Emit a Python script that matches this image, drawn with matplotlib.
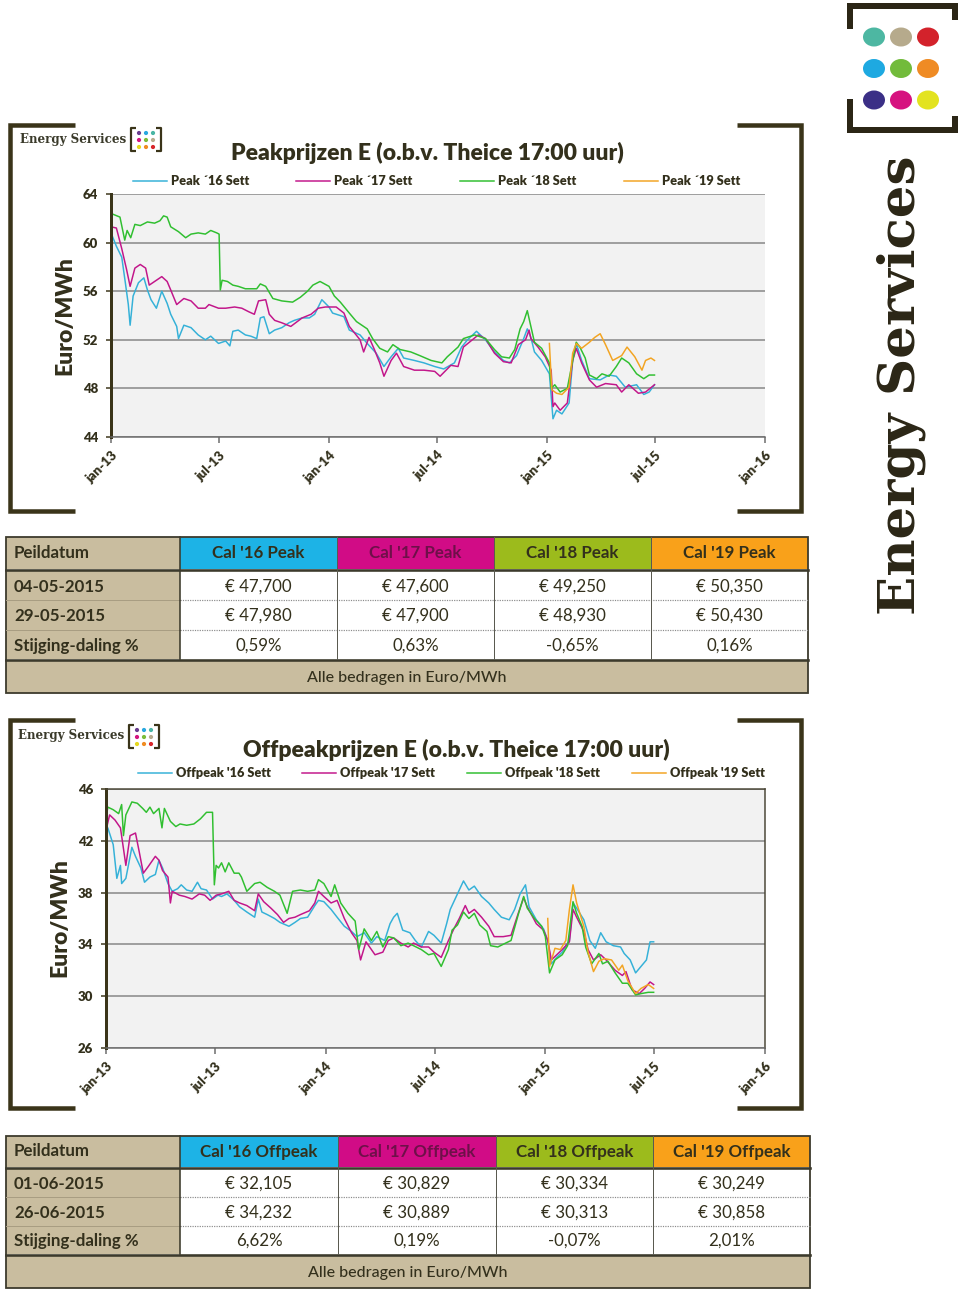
import numpy as np
import matplotlib
matplotlib.use("Agg")
import matplotlib.pyplot as plt
from matplotlib.patches import Rectangle, Ellipse

# ---------------- data (months after 1 Jan 2013, EUR/MWh) ----------------
PEAK16 = [(0, 60.8), (0.3, 59.7), (0.6, 58.8), (0.8, 56.7), (0.95, 54.9), (1.05, 53.2), (1.2, 55.6),
          (1.5, 56.7), (1.8, 57.1), (2.0, 56.1), (2.2, 55.3), (2.5, 54.6), (2.8, 56.0), (3.1, 55.0),
          (3.3, 54.1), (3.6, 53.1), (3.7, 52.1), (4.0, 53.2), (4.4, 53.0), (4.8, 52.4), (5.2, 52.0),
          (5.5, 52.3), (5.9, 51.7), (6.3, 51.9), (6.55, 51.5), (6.7, 52.7), (7.0, 52.8), (7.4, 52.4),
          (7.7, 52.3), (8.0, 52.1), (8.2, 53.8), (8.4, 53.9), (8.7, 52.5), (9.0, 52.8), (9.4, 53.0),
          (9.8, 53.4), (10.1, 53.6), (10.5, 53.8), (10.9, 53.8), (11.2, 54.1), (11.6, 55.3), (12.0, 54.7),
          (12.2, 54.2), (12.8, 53.9), (13.1, 52.8), (13.7, 52.4), (14.1, 51.7), (14.6, 50.9), (15.0, 49.8),
          (15.4, 50.6), (15.8, 51.3), (16.1, 50.5), (16.7, 50.3), (17.2, 50.1), (17.8, 49.8), (18.3, 49.6),
          (18.9, 50.1), (19.3, 51.4), (19.6, 52.0), (20.1, 52.7), (20.6, 52.0), (21.1, 51.0), (21.6, 50.3),
          (21.9, 50.1), (22.3, 50.7), (22.7, 52.1), (22.9, 52.9), (23.1, 52.2), (23.3, 51.0), (23.7, 50.3),
          (24.1, 49.2), (24.3, 45.5), (24.5, 46.2), (24.8, 45.9), (25.2, 46.8), (25.4, 50.3), (25.6, 51.7),
          (25.9, 50.3), (26.3, 48.8), (26.9, 48.7), (27.4, 49.1), (27.8, 49.0), (28.3, 48.1), (28.9, 48.3),
          (29.3, 47.5), (29.6, 47.7), (29.9, 48.3)]
PEAK17 = [(0, 61.3), (0.3, 61.2), (0.6, 59.5), (0.85, 57.8), (1.05, 56.4), (1.3, 57.9), (1.6, 58.2),
          (1.9, 57.9), (2.1, 56.5), (2.4, 56.8), (2.8, 57.2), (3.1, 56.8), (3.3, 56.1), (3.6, 54.9),
          (4.0, 55.4), (4.4, 55.2), (4.8, 54.6), (5.2, 54.6), (5.4, 54.9), (5.9, 54.6), (6.3, 54.6),
          (6.8, 54.7), (7.2, 54.6), (7.6, 54.3), (7.9, 54.1), (8.1, 55.2), (8.5, 55.3), (8.7, 54.1),
          (9.0, 53.6), (9.4, 53.4), (9.9, 53.1), (10.5, 53.8), (11.0, 54.1), (11.4, 54.6), (11.8, 54.7),
          (12.4, 54.7), (12.8, 54.2), (13.1, 53.1), (13.7, 52.0), (13.9, 51.0), (14.2, 52.2), (14.5, 51.2),
          (14.8, 50.1), (15.0, 49.0), (15.4, 50.3), (15.7, 50.9), (16.1, 49.8), (16.7, 49.5), (17.2, 49.5),
          (17.8, 49.4), (18.1, 49.0), (18.7, 49.9), (19.1, 49.8), (19.4, 51.4), (19.7, 51.8), (20.2, 52.4),
          (20.6, 52.1), (21.1, 50.9), (21.6, 50.2), (22.0, 50.1), (22.4, 51.6), (22.8, 52.0), (23.0, 52.8),
          (23.1, 52.1), (23.5, 51.4), (23.9, 50.6), (24.2, 49.5), (24.3, 46.5), (24.4, 46.8), (24.7, 46.2),
          (25.1, 46.8), (25.4, 50.3), (25.6, 51.3), (25.9, 50.1), (26.3, 48.7), (26.7, 48.1), (27.2, 48.4),
          (27.8, 48.3), (28.1, 47.7), (28.5, 48.3), (29.0, 47.6), (29.4, 47.7), (29.9, 48.3)]
PEAK18 = [(0, 62.4), (0.5, 62.1), (0.77, 60.2), (0.9, 61.0), (1.1, 60.4), (1.3, 61.5), (1.6, 61.4),
          (2.0, 61.7), (2.4, 61.6), (2.7, 61.8), (2.9, 62.2), (3.1, 62.1), (3.3, 61.3), (3.7, 60.9),
          (4.1, 60.4), (4.4, 60.7), (4.8, 60.8), (5.2, 60.7), (5.5, 61.0), (5.8, 60.8), (5.95, 60.7),
          (6.0, 56.1), (6.1, 56.9), (6.4, 56.8), (6.7, 56.5), (7.0, 56.4), (7.4, 56.2), (8.0, 56.2),
          (8.2, 56.6), (8.5, 56.4), (8.9, 55.4), (9.4, 55.2), (10.0, 55.1), (10.4, 55.5), (10.8, 56.0),
          (11.1, 56.5), (11.5, 56.8), (12.0, 56.4), (12.3, 55.6), (12.6, 55.1), (13.1, 54.2), (13.5, 53.5),
          (14.1, 52.9), (14.4, 52.1), (14.8, 51.3), (15.2, 51.0), (15.5, 51.6), (15.9, 51.2), (16.5, 51.0),
          (17.0, 50.7), (17.6, 50.3), (18.2, 50.1), (18.5, 50.6), (19.1, 51.4), (19.4, 52.1), (20.0, 52.4),
          (20.6, 52.1), (21.1, 51.2), (21.5, 50.6), (21.9, 50.5), (22.2, 51.2), (22.5, 52.9), (22.7, 53.5),
          (22.9, 54.4), (23.1, 53.1), (23.3, 51.8), (23.7, 51.3), (24.1, 50.1), (24.2, 48.0), (24.4, 48.3),
          (24.7, 47.7), (25.1, 48.0), (25.4, 50.3), (25.6, 51.8), (25.8, 51.4), (26.1, 50.5), (26.3, 49.1),
          (26.7, 48.8), (27.0, 49.2), (27.4, 49.0), (27.8, 49.8), (28.1, 50.5), (28.5, 50.1), (28.9, 49.2),
          (29.3, 48.8), (29.6, 49.1), (29.9, 49.1)]
PEAK19 = [(24.1, 51.7), (24.25, 47.9), (24.5, 47.6), (24.8, 47.5), (25.2, 48.1), (25.4, 50.9), (25.6, 51.7),
          (25.9, 51.3), (26.3, 51.8), (26.6, 52.2), (26.9, 52.5), (27.2, 51.6), (27.6, 50.3), (28.1, 50.7),
          (28.4, 51.4), (28.8, 50.6), (29.2, 49.5), (29.4, 50.3), (29.7, 50.5), (29.9, 50.3)]

OFF16 = [(0, 42.4), (0.1, 43.0), (0.4, 41.7), (0.6, 39.1), (0.8, 40.1), (0.85, 38.7), (1.1, 39.1),
         (1.4, 41.5), (1.6, 40.8), (1.9, 39.9), (2.1, 38.8), (2.4, 39.2), (2.7, 39.4), (2.9, 40.5),
         (3.1, 39.9), (3.4, 38.7), (3.6, 38.1), (3.9, 38.3), (4.1, 38.6), (4.4, 38.2), (4.7, 38.1),
         (5.0, 38.8), (5.2, 38.3), (5.5, 38.2), (5.8, 37.5), (6.1, 37.8), (6.3, 37.7), (6.6, 37.9),
         (7.0, 37.4), (7.3, 36.9), (7.7, 36.5), (8.1, 36.1), (8.3, 37.5), (8.5, 36.5), (8.8, 36.3),
         (9.2, 36.0), (9.5, 35.7), (10.0, 35.4), (10.3, 35.7), (10.6, 36.0), (11.0, 36.1), (11.4, 37.0),
         (11.6, 37.4), (11.9, 37.3), (12.3, 36.7), (12.6, 36.1), (13.0, 35.4), (13.4, 35.0), (13.7, 34.6),
         (14.1, 34.9), (14.5, 34.1), (14.8, 34.6), (15.2, 34.3), (15.5, 35.6), (15.7, 36.1), (15.9, 36.4),
         (16.2, 35.1), (16.6, 34.9), (16.9, 34.3), (17.2, 33.8), (17.6, 35.0), (17.9, 34.7), (18.3, 34.1),
         (18.6, 35.6), (18.8, 36.7), (19.2, 37.9), (19.5, 38.9), (19.8, 38.2), (20.1, 38.5), (20.5, 37.7),
         (20.9, 37.2), (21.2, 36.7), (21.6, 36.1), (22.0, 35.9), (22.3, 36.7), (22.6, 37.9), (22.9, 38.6),
         (23.1, 36.9), (23.5, 35.9), (23.9, 35.2), (24.1, 34.3), (24.3, 32.5), (24.6, 33.0), (24.9, 33.4),
         (25.3, 34.3), (25.5, 37.2), (25.7, 36.8), (26.1, 35.9), (26.4, 34.3), (26.7, 33.7), (27.0, 34.9),
         (27.3, 34.2), (27.7, 33.9), (28.1, 33.8), (28.3, 33.3), (28.6, 32.8), (28.9, 31.8), (29.2, 32.3),
         (29.5, 32.8), (29.7, 34.2), (29.9, 34.2)]
OFF17 = [(0, 42.8), (0.2, 44.0), (0.5, 43.6), (0.8, 43.0), (0.95, 41.4), (1.1, 40.1), (1.3, 42.4),
         (1.6, 42.6), (1.8, 41.2), (2.05, 39.5), (2.3, 40.0), (2.7, 40.8), (2.9, 40.5), (3.1, 39.7),
         (3.4, 39.2), (3.5, 37.2), (3.6, 38.1), (4.0, 37.8), (4.3, 37.7), (4.7, 37.5), (5.1, 37.9),
         (5.4, 37.8), (5.7, 37.4), (6.0, 37.8), (6.3, 37.9), (6.7, 38.1), (7.0, 37.4), (7.3, 37.2),
         (7.7, 37.0), (8.1, 36.6), (8.3, 37.9), (8.6, 37.3), (9.0, 36.8), (9.35, 36.3), (9.7, 35.7),
         (10.0, 36.0), (10.3, 36.1), (10.6, 36.3), (11.1, 36.6), (11.4, 37.2), (11.6, 38.1), (11.9, 37.7),
         (12.3, 37.2), (12.6, 37.4), (13.0, 36.0), (13.4, 34.9), (13.7, 34.3), (13.9, 32.8), (14.2, 34.2),
         (14.5, 33.6), (14.7, 33.2), (15.1, 33.4), (15.4, 34.3), (15.7, 34.5), (16.1, 34.1), (16.5, 33.8),
         (16.8, 34.1), (17.2, 33.8), (17.6, 33.8), (17.9, 33.4), (18.3, 33.0), (18.7, 34.3), (19.0, 35.2),
         (19.3, 36.0), (19.6, 37.0), (19.8, 36.4), (20.1, 36.7), (20.5, 36.1), (20.9, 35.4), (21.2, 34.6),
         (21.7, 34.6), (22.1, 34.7), (22.5, 36.4), (22.8, 37.6), (23.0, 36.9), (23.5, 35.6), (23.9, 35.1),
         (24.1, 34.3), (24.3, 32.8), (24.6, 33.2), (24.9, 33.6), (25.3, 34.2), (25.5, 36.7), (25.7, 36.1),
         (26.1, 35.0), (26.3, 33.6), (26.6, 32.8), (27.0, 33.2), (27.3, 32.8), (27.8, 32.0), (28.2, 31.6),
         (28.4, 31.9), (28.7, 30.5), (29.1, 30.2), (29.4, 30.6), (29.7, 31.1), (29.9, 30.9)]
OFF18 = [(0, 43.7), (0.1, 44.6), (0.4, 44.4), (0.7, 44.1), (0.85, 44.8), (0.95, 42.4), (1.1, 44.0),
         (1.4, 45.0), (1.7, 44.9), (2.0, 44.5), (2.2, 44.2), (2.4, 44.6), (2.6, 44.1), (2.9, 44.5),
         (3.05, 43.0), (3.2, 44.5), (3.5, 43.5), (3.8, 43.1), (4.05, 43.3), (4.4, 43.2), (4.8, 43.3),
         (5.15, 43.7), (5.5, 44.2), (5.8, 44.2), (5.9, 38.6), (6.0, 40.1), (6.15, 39.9), (6.3, 40.3),
         (6.5, 39.6), (6.7, 40.3), (7.0, 39.5), (7.25, 39.5), (7.4, 39.2), (7.7, 38.1), (8.1, 38.7),
         (8.4, 38.8), (8.8, 38.4), (9.2, 38.1), (9.5, 37.8), (9.9, 36.4), (10.2, 38.1), (10.6, 38.2),
         (11.0, 38.1), (11.4, 38.2), (11.6, 39.0), (11.9, 38.7), (12.3, 37.7), (12.5, 38.6), (12.8, 37.2),
         (13.2, 36.4), (13.6, 35.8), (13.8, 33.6), (14.1, 35.2), (14.5, 34.3), (14.8, 35.0), (15.1, 33.8),
         (15.4, 34.6), (15.7, 34.5), (16.1, 33.9), (16.5, 34.1), (16.8, 33.9), (17.2, 33.6), (17.6, 33.2),
         (17.9, 33.3), (18.3, 32.3), (18.7, 33.6), (18.9, 35.1), (19.2, 35.5), (19.5, 36.5), (19.8, 36.0),
         (20.1, 36.4), (20.4, 35.5), (20.8, 35.0), (21.0, 33.9), (21.4, 33.8), (21.8, 34.1), (22.1, 34.3),
         (22.5, 36.3), (22.8, 37.7), (23.0, 36.8), (23.4, 36.0), (23.8, 35.4), (24.0, 34.6), (24.2, 31.8),
         (24.5, 32.8), (24.9, 33.2), (25.2, 33.9), (25.5, 37.3), (25.7, 36.4), (26.0, 35.4), (26.2, 33.8),
         (26.5, 32.5), (26.9, 33.3), (27.1, 32.5), (27.4, 32.7), (27.8, 31.8), (28.2, 31.0), (28.5, 31.0),
         (28.9, 30.1), (29.2, 30.2), (29.6, 30.3), (29.9, 30.3)]
OFF19 = [(24.1, 36.0), (24.2, 32.3), (24.5, 33.7), (24.8, 33.6), (25.1, 34.3), (25.3, 36.7), (25.5, 38.6),
         (25.7, 37.2), (26.1, 35.4), (26.3, 33.4), (26.6, 31.9), (26.9, 32.7), (27.2, 32.9), (27.6, 32.8),
         (28.0, 32.0), (28.2, 32.4), (28.5, 31.2), (28.9, 30.2), (29.2, 30.6), (29.6, 30.9), (29.9, 30.6)]

X_TICKS = ["2013-01-01", "2013-07-01", "2014-01-01", "2014-07-01", "2015-01-01", "2015-07-01", "2016-01-01"]
X_LABELS = ["jan-13", "jul-13", "jan-14", "jul-14", "jan-15", "jul-15", "jan-16"]
PEAK_YTICKS = [44, 48, 52, 56, 60, 64]
OFF_YTICKS = [26, 30, 34, 38, 42, 46]

PEAK_LEGEND = ["Peak \u00b416 Sett", "Peak \u00b417 Sett", "Peak \u00b418 Sett", "Peak \u00b419 Sett"]
OFF_LEGEND = ["Offpeak '16 Sett", "Offpeak '17 Sett", "Offpeak '18 Sett", "Offpeak '19 Sett"]

PEAK_HEAD = ["Peildatum", "Cal '16 Peak", "Cal '17 Peak", "Cal '18 Peak", "Cal '19 Peak"]
PEAK_ROWS = ["04-05-2015", "29-05-2015", "Stijging-daling %"]
PEAK_CELLS = [["\u20ac 47,700", "\u20ac 47,600", "\u20ac 49,250", "\u20ac 50,350"],
              ["\u20ac 47,980", "\u20ac 47,900", "\u20ac 48,930", "\u20ac 50,430"],
              ["0,59%", "0,63%", "-0,65%", "0,16%"]]
OFF_HEAD = ["Peildatum", "Cal '16 Offpeak", "Cal '17 Offpeak", "Cal '18 Offpeak", "Cal '19 Offpeak"]
OFF_ROWS = ["01-06-2015", "26-06-2015", "Stijging-daling %"]
OFF_CELLS = [["\u20ac 32,105", "\u20ac 30,829", "\u20ac 30,334", "\u20ac 30,249"],
             ["\u20ac 34,232", "\u20ac 30,889", "\u20ac 30,313", "\u20ac 30,858"],
             ["6,62%", "0,19%", "-0,07%", "2,01%"]]
FOOTER = "Alle bedragen in Euro/MWh"

# ---------------- style ----------------
W, H = 960, 1293
FONT = "Lato"
DARK = "#3a3419"
TXT = "#33301c"
TAN = "#c9bd9f"
LINE_COLORS = ["#35b1d8", "#c2168a", "#30bf30", "#f2a422"]
HEAD_COLORS = [TAN, "#1db3e6", "#d10c86", "#9cbb1c", "#f9a11a"]
HEAD_TXT = [TXT, TXT, "#6e1049", TXT, TXT]
LOGO_BIG = ["#4db7a2", "#b6aa8c", "#d3222b", "#1ea9e1", "#72bb3b", "#ef8b24", "#3b2f86", "#d6137f", "#e3e31f"]
LOGO_SMALL = ["#6a3d8f", "#2aa8e0", "#49b6a5", "#d4157f", "#7bbd3a", "#b8ad8f", "#e6d81e", "#f08c22", "#d8262b"]

plt.rcParams["font.family"] = [FONT, "DejaVu Sans"]


def px(v):
    # pixels -> points at dpi 100
    return v * 0.72


def to_dates(months):
    days = np.round(np.asarray(months) * 30.4375).astype(int)
    return np.datetime64("2013-01-01") + days.astype("timedelta64[D]")


fig = plt.figure(figsize=(W / 100, H / 100), dpi=100)
ov = fig.add_axes([0, 0, 1, 1])
ov.set_xlim(0, W)
ov.set_ylim(H, 0)
ov.axis("off")


def bracket_frame(y0, y1):
    kw = dict(color=DARK, lw=px(4.5), solid_capstyle="butt", solid_joinstyle="miter")
    ov.plot([75, 10, 10, 75], [y0, y0, y1, y1], **kw)
    ov.plot([737, 801, 801, 737], [y0, y0, y1, y1], **kw)


def small_logo(x, y):
    ov.text(x, y, "Energy Services", family="DejaVu Serif", weight="bold", fontsize=8.6,
            color="#3a3a2a", ha="left", va="center")
    bx = x + 111
    kw = dict(color=DARK, lw=px(2.2), solid_capstyle="butt")
    ov.plot([bx + 5, bx, bx, bx + 5], [y - 11, y - 11, y + 12, y + 12], **kw)
    ov.plot([bx + 25, bx + 30, bx + 30, bx + 25], [y - 11, y - 11, y + 12, y + 12], **kw)
    for i, c in enumerate(LOGO_SMALL):
        ov.add_patch(Ellipse((bx + 8 + 7 * (i % 3), y - 6 + 7 * (i // 3)), 4.2, 4.2, color=c, lw=0))


def legend_row(labels, xs, y):
    for lab, c, x in zip(labels, LINE_COLORS, xs):
        ov.plot([x, x + 34], [y, y], color=c, lw=px(1.5))
        ov.text(x + 38, y, lab, ha="left", va="center", fontsize=9.2, weight="heavy", color=TXT)


def chart(box, series, ylim, yticks, full_frame):
    l, t, r, b = box
    ax = fig.add_axes([l / W, 1 - b / H, (r - l) / W, (b - t) / H])
    ax.set_facecolor("#f2f2f2")
    for data, c in zip(series, LINE_COLORS):
        m, v = zip(*data)
        ax.plot(to_dates(m), v, color=c, lw=px(1.5), solid_joinstyle="round")
    ax.set_xlim(np.datetime64("2013-01-01"), np.datetime64("2016-01-01"))
    ax.set_ylim(*ylim)
    ax.set_yticks(yticks)
    ax.set_xticks(np.array(X_TICKS, dtype="datetime64[D]"))
    ax.set_xticklabels(X_LABELS, rotation=45, ha="right", va="top", rotation_mode="anchor")
    ax.yaxis.grid(True, color="#8c8c8c", lw=px(1.6))
    ax.set_axisbelow(True)
    ax.spines["left"].set_color(DARK)
    ax.spines["left"].set_linewidth(px(3))
    ax.spines["bottom"].set_color("#6b6b6b")
    ax.spines["bottom"].set_linewidth(px(1.5))
    for s in ("top", "right"):
        if full_frame:
            ax.spines[s].set_color("#4a4636")
            ax.spines[s].set_linewidth(px(1.5))
        else:
            ax.spines[s].set_visible(False)
    ax.tick_params(axis="y", length=px(5), width=px(1.5), color=DARK, pad=px(8),
                   labelsize=9.5, labelcolor=TXT)
    ax.tick_params(axis="x", length=px(6), width=px(1.5), color="#6b6b6b", pad=px(6),
                   labelsize=9.5, labelcolor=TXT)
    for lab in ax.get_xticklabels() + ax.get_yticklabels():
        lab.set_fontweight("heavy")
    return ax


def table(xs, hy, ry, fy, head, rows, cells):
    x0, x5 = xs[0], xs[-1]
    fs = 12.2
    # header
    for j in range(5):
        ov.add_patch(Rectangle((xs[j], hy[0]), xs[j + 1] - xs[j], hy[1] - hy[0], color=HEAD_COLORS[j], lw=0))
        if j == 0:
            ov.text(x0 + 8, (hy[0] + hy[1]) / 2, head[j], ha="left", va="center", fontsize=fs,
                    weight="bold", color=TXT)
        else:
            ov.text((xs[j] + xs[j + 1]) / 2, (hy[0] + hy[1]) / 2, head[j], ha="center", va="center",
                    fontsize=fs, weight="bold", color=HEAD_TXT[j])
    # body
    ov.add_patch(Rectangle((x0, ry[0]), xs[1] - x0, ry[-1] - ry[0], color=TAN, lw=0))
    ov.add_patch(Rectangle((xs[1], ry[0]), x5 - xs[1], ry[-1] - ry[0], color="white", lw=0))
    for i in range(3):
        yc = (ry[i] + ry[i + 1]) / 2 + 1
        ov.text(x0 + 8, yc, rows[i], ha="left", va="center", fontsize=fs, weight="bold", color=TXT)
        for j in range(4):
            ov.text((xs[j + 1] + xs[j + 2]) / 2, yc, cells[i][j], ha="center", va="center",
                    fontsize=fs, color=TXT)
    for yy in ry[1:-1]:
        ov.plot([x0, xs[1]], [yy, yy], color="#a89d82", lw=px(1))
        ov.plot([xs[1], x5], [yy, yy], color="#8c8c8c", lw=px(1.2), ls=(0, (1, 1)))
    # footer
    ov.add_patch(Rectangle((x0, fy[0]), x5 - x0, fy[1] - fy[0], color=TAN, lw=0))
    ov.text((x0 + x5) / 2, (fy[0] + fy[1]) / 2 + 1, FOOTER, ha="center", va="center", fontsize=11.5,
            weight="medium", color=TXT)
    # rules
    ov.plot([x0, x5], [(hy[1] + ry[0]) / 2] * 2, color="#3c3a2c", lw=px(2.6))
    ov.plot([x0, x5], [(ry[-1] + fy[0]) / 2] * 2, color="#3c3a2c", lw=px(2.6))
    ov.plot([xs[1], xs[1]], [hy[0], ry[-1]], color="#3c3a2c", lw=px(1.6))
    for xx in xs[2:-1]:
        ov.plot([xx, xx], [hy[0], ry[-1]], color="#5a5a50", lw=px(1))
    ov.add_patch(Rectangle((x0, hy[0]), x5 - x0, fy[1] - hy[0], fill=False, ec="#3c3a2c", lw=px(1.8)))


# ---------------- top: peak ----------------
bracket_frame(125, 511)
small_logo(20, 139)
ov.text(427, 153, "Peakprijzen E (o.b.v. Theice 17:00 uur)", ha="center", va="center",
        fontsize=16.5, weight="heavy", color=TXT)
legend_row(PEAK_LEGEND, [133, 296, 460, 624], 181)
ov.text(65, 316, "Euro/MWh", rotation=90, ha="center", va="center", fontsize=16.5, weight="heavy", color=TXT)
chart((111, 194, 765, 437), [PEAK16, PEAK17, PEAK18, PEAK19], (44, 64), PEAK_YTICKS, False)
table([6, 180, 337, 494, 651, 808], (537, 569), [571, 600, 630, 659], (661, 693),
      PEAK_HEAD, PEAK_ROWS, PEAK_CELLS)

# ---------------- bottom: offpeak ----------------
bracket_frame(720, 1108)
small_logo(18, 736)
ov.text(456, 750, "Offpeakprijzen E (o.b.v. Theice 17:00 uur)", ha="center", va="center",
        fontsize=16.5, weight="heavy", color=TXT)
legend_row(OFF_LEGEND, [138, 302, 467, 632], 773)
ov.text(60, 918, "Euro/MWh", rotation=90, ha="center", va="center", fontsize=16.5, weight="heavy", color=TXT)
chart((106, 789, 765, 1048), [OFF16, OFF17, OFF18, OFF19], (26, 46), OFF_YTICKS, True)
table([6, 180, 338, 496, 653, 810], (1136, 1167), [1169, 1197, 1226, 1254], (1256, 1288),
      OFF_HEAD, OFF_ROWS, OFF_CELLS)

# ---------------- right logo ----------------
kw = dict(color="#2b2616", lw=px(6), solid_capstyle="butt", solid_joinstyle="miter")
ov.plot([850, 850, 955, 955], [29, 6, 6, 20], **kw)
ov.plot([850, 850, 955, 955], [99, 130, 130, 116], **kw)
for i, c in enumerate(LOGO_BIG):
    ov.add_patch(Ellipse((874 + 27 * (i % 3), 37 + 31.5 * (i // 3)), 22, 19, color=c, lw=0))
ov.text(901, 385, "Energy Services", rotation=90, ha="center", va="center", family="DejaVu Serif",
        weight="bold", fontsize=37, color="#2b2616")

fig.savefig("out.png", dpi=100)
